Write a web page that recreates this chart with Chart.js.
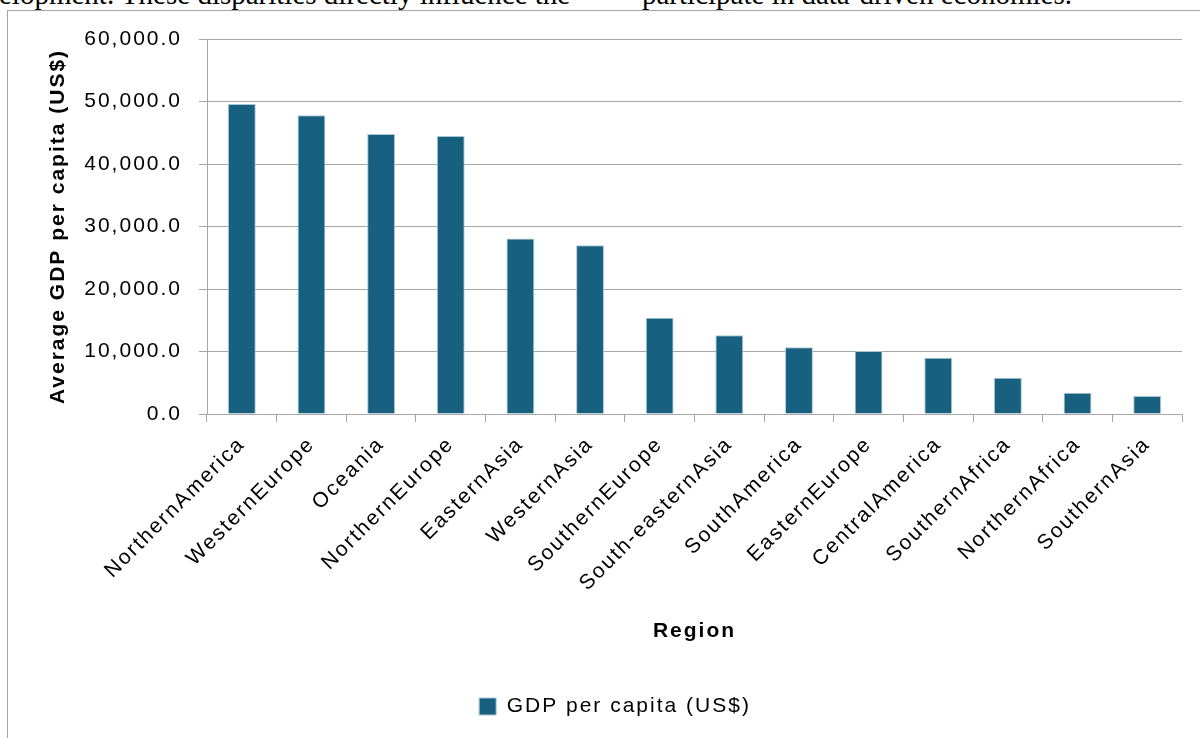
<!DOCTYPE html>
<html>
<head>
<meta charset="utf-8">
<script src="https://cdn.jsdelivr.net/npm/chart.js@4.4.1/dist/chart.umd.min.js"></script>
<style>
  html, body { margin: 0; padding: 0; background: #fff; width: 1200px; height: 738px; overflow: hidden; position: relative; }
  .doc { position: absolute; top: -20px; font-family: "Liberation Serif", "DejaVu Serif", serif; font-size: 29px; line-height: 29px; color: #000; white-space: nowrap; }
  #frame { position: absolute; left: 7px; top: 10px; width: 1200px; height: 740px; border-left: 1px solid #a6a6a6; border-top: 1px solid #a6a6a6; background: #fff; }
  #wrap { position: absolute; left: 8px; top: 13px; width: 1192px; height: 725px; }
</style>
</head>
<body>
<div class="doc" style="left:-1px;">elopment. These disparities directly influence the</div>
<div class="doc" style="left:642px;">participate in data-driven economies.</div>
<div id="frame"></div>
<div id="wrap"><canvas id="c" width="1192" height="725"></canvas></div>
<script>
const categories = ["NorthernAmerica", "WesternEurope", "Oceania", "NorthernEurope", "EasternAsia", "WesternAsia", "SouthernEurope", "South-easternAsia", "SouthAmerica", "EasternEurope", "CentralAmerica", "SouthernAfrica", "NorthernAfrica", "SouthernAsia"];
const gdpPerCapita = [49600, 47800, 44800, 44500, 28100, 27000, 15400, 12600, 10700, 10100, 9000, 5800, 3400, 2900];
const seriesName = "GDP per capita (US$)";
const yTicks = [0, 10000, 20000, 30000, 40000, 50000, 60000];

const FONT = "'Liberation Sans', Arial, sans-serif";
const GRID = "#a6a6a6";
const stylePlugin = {
  id: 'excelStyle',
  beforeLayout(chart) { chart.ctx.letterSpacing = '2px'; },
  afterLayout(chart) {
    // legend is centred on the full (wider) chart frame, not on this canvas
    if (chart.legend) { chart.legend.left += 20; chart.legend.right += 20; }
  },
  beforeDraw(chart) { chart.ctx.letterSpacing = '2px'; }
};

new Chart(document.getElementById('c'), {
  type: 'bar',
  data: {
    labels: categories,
    datasets: [{
      label: seriesName,
      data: gdpPerCapita,
      backgroundColor: '#17607f',
      borderColor: '#a9c6d6',
      borderWidth: 1,
      categoryPercentage: 1,
      barPercentage: 0.4
    }]
  },
  plugins: [stylePlugin],
  options: {
    responsive: false,
    animation: false,
    devicePixelRatio: 1,
    layout: { padding: { top: 26, right: 18, left: 0, bottom: 11 } },
    plugins: {
      tooltip: { enabled: false },
      legend: {
        position: 'bottom',
        labels: {
          boxWidth: 17, boxHeight: 17, padding: 10,
          color: '#000',
          font: { family: FONT, size: 21 }
        }
      }
    },
    scales: {
      x: {
        afterFit(s) { s.height = 272; },
        grid: { drawOnChartArea: false, offset: true, tickLength: 8, color: GRID },
        border: { color: GRID },
        ticks: { autoSkip: false, maxRotation: 45, minRotation: 45, padding: 10, color: '#000', font: { family: FONT, size: 21 } },
        title: { display: true, text: 'Region', color: '#000', font: { family: FONT, size: 21, weight: 'bold' }, padding: { top: 0, bottom: 42 } }
      },
      y: {
        min: 0, max: 60000,
        afterFit(s) { s.width = 199; s.paddingTop = 12; s.paddingBottom = 12; },
        afterBuildTicks(s) { s.ticks = yTicks.map(v => ({ value: v })); },
        grid: { color: GRID, tickLength: 8 },
        border: { color: GRID },
        ticks: {
          padding: 17, color: '#000', font: { family: FONT, size: 21 },
          callback: v => Number(v).toLocaleString('en-US', { minimumFractionDigits: 1, maximumFractionDigits: 1 })
        },
        title: { display: true, text: 'Average GDP per capita (US$)', color: '#000', font: { family: FONT, size: 21, weight: 'bold' }, padding: { top: 38, bottom: 0 } }
      }
    }
  }
});
</script>
</body>
</html>
